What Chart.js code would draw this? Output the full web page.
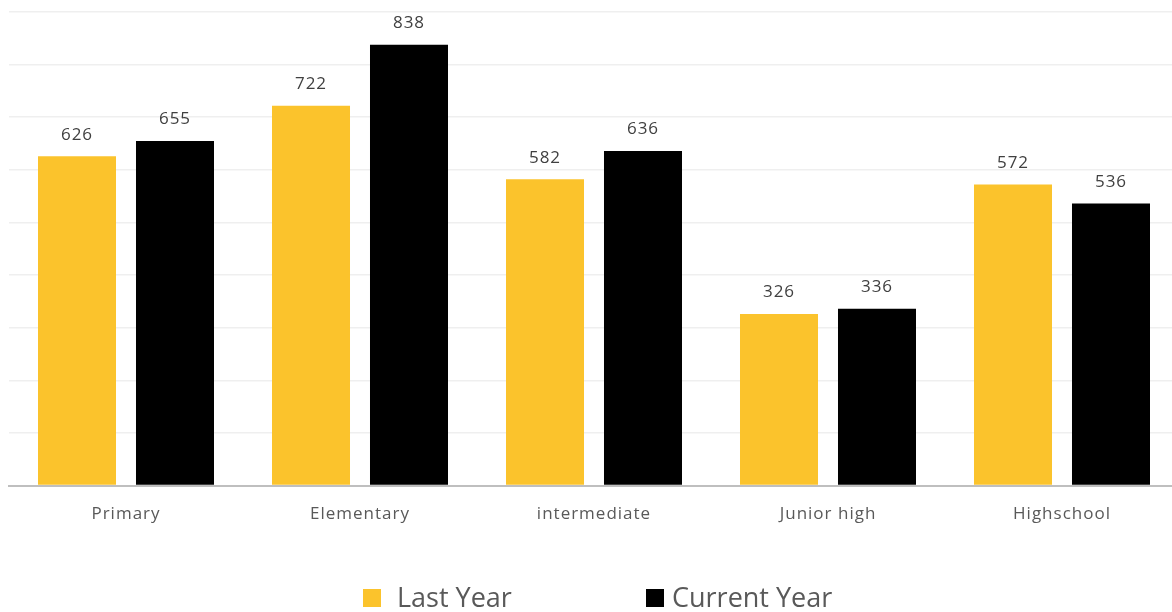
<!DOCTYPE html>
<html lang="en">
  <head>
    <meta charset="UTF-8" />
    <title>Enrollment by Level</title>
    <script src="https://cdn.jsdelivr.net/npm/chart.js@4.4.0/dist/chart.umd.min.js"></script>
    <style>
      html, body { margin: 0; padding: 0; background: #fff; }
      #wrap { position: relative; width: 1172px; height: 612px; overflow: hidden; }
      #plot { position: absolute; left: 0; top: 0; width: 1179px; height: 612px; }
      .key { position: absolute; top: 578px; font: 27px "Open Sans"; color: #595959; white-space: nowrap; }
      .swatch { position: absolute; top: 589px; width: 18px; height: 18px; }
    </style>
  </head>
  <body>
    <div id="wrap">
      <div id="plot"><canvas id="myChart"></canvas></div>
      <div id="legend"></div>
    </div>

    <script>
      const levels = ["Primary", "Elementary", "intermediate", "Junior high", "Highschool"];
      const lastYear = [626, 722, 582, 326, 572];
      const currentYear = [655, 838, 636, 336, 536];
      const seriesNames = ["Last Year", "Current Year"];
      const seriesColors = ["#FBC32C", "#000000"];

      // draws the value above each bar
      const valueLabels = {
        id: "valueLabels",
        afterDatasetsDraw(chart) {
          const ctx = chart.ctx;
          ctx.save();
          ctx.font = "17px 'Open Sans'";
          ctx.fillStyle = "#404040";
          ctx.textAlign = "center";
          ctx.textBaseline = "bottom";
          chart.data.datasets.forEach((ds, i) => {
            chart.getDatasetMeta(i).data.forEach((bar, j) => {
              ctx.fillText(ds.data[j], bar.x, bar.y - 13);
            });
          });
          ctx.restore();
        },
      };

      // a bit of letter spacing like the original labels
      const spacing = {
        id: "spacing",
        beforeDraw(chart) { chart.ctx.letterSpacing = "1px"; },
        afterDraw(chart) { chart.ctx.letterSpacing = "0px"; },
      };

      const ctx = document.getElementById("myChart");
      const chart = new Chart(ctx, {
        type: "bar",
        data: {
          labels: levels,
          datasets: seriesNames.map((name, i) => ({
            label: name,
            data: i === 0 ? lastYear : currentYear,
            backgroundColor: seriesColors[i],
            categoryPercentage: 0.8376,
            barPercentage: 0.796,
          })),
        },
        options: {
          responsive: true,
          maintainAspectRatio: false,
          animation: false,
          layout: { padding: { left: 9, right: 0, top: 12, bottom: 78 } },
          plugins: {
            tooltip: { enabled: false },
            legend: { display: false },
          },
          scales: {
            x: {
              grid: { display: false },
              border: { color: "#BFBFBF", width: 2 },
              ticks: {
                color: "#595959",
                padding: 10,
                font: { family: "'Open Sans'", size: 17 },
              },
            },
            y: {
              min: 0,
              max: 900,
              ticks: { display: false, stepSize: 100 },
              grid: { color: "#EFEFEF", lineWidth: 1.5, drawTicks: false },
              border: { display: false },
            },
          },
        },
        plugins: [valueLabels, spacing],
      });

      // legend below the plot
      const legend = document.getElementById("legend");
      const swatchX = [363, 646];
      const textX = [397, 672];
      seriesNames.forEach((name, i) => {
        const sw = document.createElement("div");
        sw.className = "swatch";
        sw.style.left = swatchX[i] + "px";
        sw.style.background = seriesColors[i];
        legend.appendChild(sw);
        const tx = document.createElement("div");
        tx.className = "key";
        tx.style.left = textX[i] + "px";
        tx.textContent = name;
        legend.appendChild(tx);
      });
    </script>
  </body>
</html>
